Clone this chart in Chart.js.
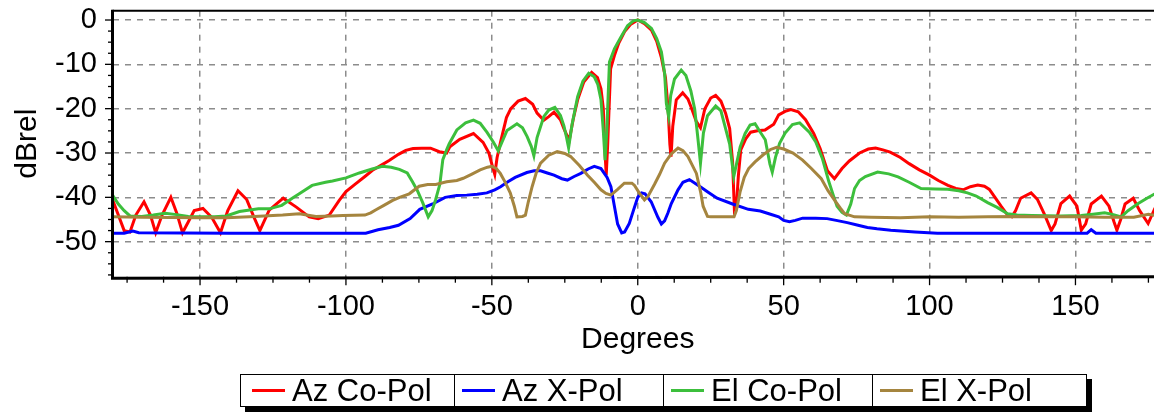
<!DOCTYPE html>
<html><head><meta charset="utf-8">
<script src="https://cdn.jsdelivr.net/npm/chart.js@4.4.1/dist/chart.umd.min.js"></script>
<style>
html,body{margin:0;padding:0;background:#fff;overflow:hidden;width:1154px;height:417px;}
#wrap{position:absolute;left:0;top:0;width:1170px;height:417px;}
#legend{position:absolute;left:240px;top:374px;display:flex;border:1px solid #000;box-shadow:5px 5px 0 #000;background:#fff;font-family:"Liberation Sans",Arial,sans-serif;font-size:31px;color:#000;}
.cell{height:31px;display:flex;align-items:center;border-left:1px solid #000;box-sizing:border-box;padding-left:7px;white-space:nowrap;}
.cell:first-child{border-left:none;padding-left:11px}
.swatch{width:33px;height:3px;margin-right:7px;flex:none}
</style></head><body>
<div id="wrap"><canvas id="c"></canvas></div>
<div id="legend"></div>
<script>
// ---- tick labels ----
const xTicks = [-150, -100, -50, 0, 50, 100, 150];
const yTicks = [-50, -40, -30, -20, -10, 0];

// ---- series: Az Co-Pol ----
const azCoDeg = [-180,-178,-176,-174,-172,-169.2,-167,-165.2,-163,-160,-158,-156,-154,-152,-149,-146,-143,-140.5,-137,-134,-131.5,-129.5,-126.3,-121.5,-117,-112.6,-109.5,-105.7,-102.3,-100,-96.6,-93.5,-90.9,-88,-85.2,-82,-79.5,-77,-74,-71,-68,-65.5,-64.4,-61,-56.3,-53,-51,-49.8,-49,-48.2,-47,-45,-43.5,-41,-38.5,-36,-34.5,-32.2,-30.5,-28.7,-26.5,-25.3,-23.5,-22,-20.6,-18.5,-15.8,-13.8,-12.6,-11.8,-11.2,-10.8,-10.3,-9.3,-8,-6.5,-4.5,-2.5,0,2.3,4.7,6.5,8.1,9.5,10.4,11,11.4,12,13.2,15.4,17.2,18.5,20,21.5,23,25,26.7,28.5,30.1,31.5,32.5,33.1,33.9,34.5,35.3,37,38.7,41,43.6,46.6,48.3,50.5,52.5,55,57.5,60.3,62.5,65,67.4,70,72.5,76,79,81.5,84,86.5,90,93,96.5,100,103,106.3,109,111.5,114,116.5,118.8,120.5,122.3,124.5,126.5,128.2,129.5,131.2,134.8,137,139.5,141.7,143,145,148,150.5,152,153.5,155.4,158.9,161.5,163.2,164.2,165.5,167,169.8,172,174.9,177.2,180];
const azCoDb  = [-40.5,-44,-47.5,-47.8,-44,-41,-44,-48,-44,-40,-43.5,-48,-45.5,-43,-42.5,-44.5,-48,-43,-38.5,-40.5,-44.5,-47.5,-42.9,-40.2,-42.2,-44.4,-44.8,-44,-40.7,-38.7,-36.9,-35.3,-33.9,-32.8,-31.7,-30.3,-29.4,-29,-28.9,-28.9,-29.7,-30,-28.6,-26.9,-25.6,-27.6,-30,-33,-34.8,-31,-27.5,-22,-20,-18.3,-17.7,-19,-21,-22.6,-21.8,-20.8,-22.5,-24.5,-27.2,-22,-18,-14,-11.8,-13,-15.5,-20,-30,-35,-28,-11,-8,-5.2,-2.6,-1,0,-0.8,-2.3,-4.8,-8.5,-13,-20,-28,-30.8,-24,-18,-16.4,-17.8,-20,-22.8,-24.3,-20,-17.6,-17,-18.3,-21,-24.5,-32,-42.5,-41,-35,-29.3,-26.8,-25.3,-25,-24.8,-23.5,-21.4,-20.6,-20.2,-20.7,-22.5,-25.6,-29,-34,-35.8,-33.5,-31.8,-30,-29.1,-28.9,-29.3,-29.8,-31,-32.4,-33.8,-35,-36.2,-37.3,-38,-38.3,-37.6,-37.2,-37.5,-38.2,-39.9,-42,-43.8,-44.4,-43,-40.2,-39,-40.5,-44,-47.5,-46,-41.4,-39.7,-42,-47.4,-46,-41.5,-39.7,-42,-45.5,-47.4,-45,-41.5,-40.2,-43,-45.9,-42.5,-40];

// ---- series: Az X-Pol ----
const azXDeg = [-180,-176,-173,-171,-140,-100,-93.2,-89,-85,-82,-78,-74.7,-70.3,-66,-62,-58.6,-55,-51.7,-49,-47,-44.5,-42,-38,-35.5,-33.3,-31,-28.7,-26,-24.1,-21.8,-19.5,-17,-14.9,-12.6,-10.5,-9.2,-8,-6.9,-5.5,-4.5,-2.9,-1.5,0,1.3,2.5,4.6,6.9,8.1,9.2,10.3,11.5,13.8,15.5,17.7,20,21.8,24,27.2,32.5,37.9,42,45.5,48.3,50,52,54,56.5,61,64.9,68,71.8,75.5,78.7,82,86.7,95,102.7,150,154,155.4,157,180];
const azXDb  = [-48.1,-48.1,-47.6,-48,-48.1,-48.1,-48.1,-47.3,-46.8,-46.3,-44.8,-42.7,-41.5,-40,-39.6,-39.5,-39.3,-39,-38.3,-37.6,-36.5,-35.5,-34.4,-34,-34,-34.5,-35,-35.8,-36.1,-35.3,-34.6,-33.6,-33,-33.5,-35.5,-37.6,-42,-46,-48,-47.8,-45.9,-43,-40,-39,-39.2,-41,-44.5,-46,-45.3,-43.6,-41.4,-38.3,-36.6,-36,-37,-37.8,-38.8,-40.2,-41.5,-42.7,-43.1,-43.8,-44.4,-45.2,-45.5,-45.2,-44.7,-44.7,-44.8,-45.2,-45.7,-46.3,-46.8,-47.1,-47.4,-47.8,-48.1,-48.1,-48.1,-47.3,-48.1,-48.1];

// ---- series: El Co-Pol ----
const elCoDeg = [-180,-178,-176,-174,-170,-166,-162,-158,-154,-150,-145,-141,-136.5,-130,-126.3,-122,-118.4,-116,-111.6,-107,-104.6,-100,-95.4,-91,-87.5,-84.5,-81.7,-79,-77.2,-75.5,-73.7,-71.8,-70.5,-69.3,-67.8,-66.8,-65.5,-64.6,-62,-59,-56.3,-54,-51.7,-49.5,-47.8,-46.5,-44.8,-41.4,-39.5,-37.9,-36.5,-35.6,-34.5,-32.2,-30.5,-28.4,-26.5,-25.3,-24.4,-23.7,-22.5,-20.6,-18.8,-16.8,-14.9,-13.7,-12.6,-11.8,-11.2,-10.6,-9.7,-8,-5.7,-3.5,-1.5,0,2.3,4.7,6.5,8.1,9.2,9.8,10.6,11.3,12.6,14.9,16.5,18.2,19.5,20.5,21.5,22.5,23.9,26.7,28.5,30.1,31.5,32.9,34,35.1,36.8,38.5,40.2,41.9,43.7,45.3,46.1,47.2,48.6,50.5,53,55.5,58.8,61,63.3,65.5,67,68.3,70,71.5,73,74.3,76,78,82.2,86,89.2,93,97.1,102,106.2,110,113,116,119.9,123,126.8,130,135,145,152,156,160,163,165.7,168,171.5,174.5,177.2,180];
const elCoDb  = [-39.5,-41.5,-43,-44.2,-44.3,-44,-43.6,-43.9,-44.3,-44.4,-44.4,-44.2,-43.2,-42.6,-42.6,-41.8,-40.2,-39.2,-37.3,-36.6,-36.3,-35.6,-34.5,-33.6,-33,-33.2,-33.7,-34.5,-36.5,-38.5,-41.2,-44.4,-43,-40.6,-37,-31.5,-29.3,-27.9,-24.8,-23.2,-22.6,-23.3,-25.3,-27.5,-29.5,-27.5,-24.9,-23.4,-24.3,-26.3,-28.5,-30.6,-26.5,-21.8,-20.3,-19.7,-21.5,-23.9,-26.5,-28.8,-23.5,-17.3,-13.8,-12,-12.8,-14.5,-18,-25,-31.6,-25,-9.5,-6.5,-3.8,-1.3,-0.2,0,-0.6,-1.9,-4.2,-7.2,-12,-18.8,-21.8,-17,-13.3,-11.3,-12.5,-16,-20,-26,-32.3,-25.5,-21.6,-19.4,-20.5,-24.5,-28,-35.3,-32,-28.6,-25.6,-23.7,-23.4,-25.2,-27,-32.5,-34.3,-31,-27.8,-25.5,-23.6,-23.2,-25.3,-27.5,-31.3,-36.5,-39.5,-42,-43.4,-44,-41.5,-38,-36.2,-35.3,-34.3,-34.7,-35.4,-36.6,-38,-38.1,-38.2,-38.5,-39,-39.7,-41.2,-42.2,-43.7,-44,-44.1,-44.2,-44.1,-43.8,-43.5,-43.9,-44.4,-43,-41.4,-40.2,-39.2,-38.7];

// ---- series: El X-Pol ----
const elXDeg = [-180,-170,-150,-141,-133,-125,-121.7,-116,-110.3,-104.8,-101,-93.5,-91.5,-89.7,-87,-84,-81.6,-78.3,-74.9,-72,-69.2,-65.5,-62,-59.8,-57,-54,-51.5,-50,-48.5,-47.1,-45.5,-43.7,-42.3,-41.4,-39.5,-38.5,-37.5,-36.2,-34.8,-33.3,-30.5,-27.6,-25,-23,-20,-17.2,-14.9,-12.6,-10.9,-9.2,-6.9,-4.6,-2,-1.1,0.5,2.3,3.5,5.8,7.5,9.2,11.5,13.8,15.5,17.2,18.5,20.1,21.6,22.4,23.9,25,33,33.8,35.1,36.5,38,40.2,43,45.5,47.6,50,53.2,56.5,59.5,62.9,65.2,67.5,69.5,70.9,74.3,80,90,100,110,120,130,140,150,160,170,175,180];
const elXDb  = [-44.4,-44.5,-44.6,-44.6,-44.4,-44.1,-44,-43.7,-44.3,-44.2,-44.1,-44,-43.5,-42.8,-41.8,-40.7,-40,-39.2,-37.5,-37.1,-37.1,-36.5,-36.2,-35.7,-34.8,-33.8,-33.2,-33,-33.5,-34.6,-36.5,-39,-42,-44.4,-44.3,-44,-41,-37.6,-34.5,-32.3,-30.5,-29.7,-30.1,-30.8,-32.8,-35,-36.6,-38.3,-39.1,-39.5,-38.2,-36.8,-36.8,-37.3,-39,-40.6,-39.8,-37,-34.8,-32.3,-30.2,-28.9,-29.5,-30.8,-32.5,-34.6,-39,-42,-44.3,-44.4,-44.4,-43,-38.7,-35.5,-33.5,-32,-30.4,-29.2,-28.7,-29.1,-30,-31.6,-33.5,-35.8,-38.5,-40.7,-42.5,-43.7,-44.4,-44.5,-44.6,-44.4,-44.5,-44.4,-44.3,-44.4,-44.4,-44.5,-44.5,-43.8,-44.4];

const seriesNames = ['Az Co-Pol', 'Az X-Pol', 'El Co-Pol', 'El X-Pol'];
const seriesColors = ['#ff0000', '#0000ff', '#3cbf3c', '#a5853f'];

const FONT = '"Liberation Sans", Arial, Helvetica, sans-serif';
const pairs = (xs, ys) => xs.map((v, i) => ({x: v, y: ys[i]}));
const allSeries = [pairs(azCoDeg, azCoDb), pairs(azXDeg, azXDb), pairs(elCoDeg, elCoDb), pairs(elXDeg, elXDb)];

const framePlugin = {
  id: 'frame',
  afterDraw(chart) {
    const {ctx, chartArea: {left, right, top, bottom}, scales: {x, y}} = chart;
    ctx.save();
    ctx.strokeStyle = '#000';
    ctx.lineCap = 'butt';
    // ticks
    ctx.lineWidth = 1.3;
    for (let v = -175; v <= 180; v += 12.5) {
      const px = x.getPixelForValue(v);
      const major = Math.abs(v % 50) < 1e-6;
      ctx.beginPath(); ctx.moveTo(px, bottom); ctx.lineTo(px, bottom + (major ? 8.5 : 6)); ctx.stroke();
    }
    for (let v = -57.5; v <= 0.01; v += 2.5) {
      const py = y.getPixelForValue(v);
      const major = Math.abs(v % 10) < 1e-6;
      ctx.beginPath(); ctx.moveTo(left, py); ctx.lineTo(left - (major ? 7.5 : 4.5), py); ctx.stroke();
    }
    // frame
    ctx.lineWidth = 2;
    ctx.beginPath(); ctx.moveTo(left, top); ctx.lineTo(right, top); ctx.stroke();
    ctx.lineWidth = 3;
    ctx.beginPath(); ctx.moveTo(left, top - 1); ctx.lineTo(left, bottom + 1.5); ctx.lineTo(right, bottom); ctx.stroke();
    ctx.restore();
  }
};

const chart = new Chart(document.getElementById('c'), {
  type: 'line',
  data: {
    datasets: allSeries.map((d, i) => ({
      label: seriesNames[i],
      data: d,
      borderColor: seriesColors[i],
      backgroundColor: seriesColors[i],
      borderWidth: 3,
      pointRadius: 0,
      tension: 0,
      fill: false,
      order: 4 - i
    }))
  },
  options: {
    responsive: true,
    maintainAspectRatio: false,
    animation: false,
    layout: {padding: {left: 0, right: 7, top: 10.7, bottom: 59.3}},
    plugins: {legend: {display: false}, tooltip: {enabled: false}},
    scales: {
      x: {
        type: 'linear', min: -180, max: 180,
        afterBuildTicks: s => { s.ticks = xTicks.map(v => ({value: v})); },
        afterFit: s => { s.height = 81; s.paddingLeft = 0; s.paddingRight = 0; },
        grid: {color: '#8c8c8c', lineWidth: 1.5, drawTicks: false},
        border: {display: false, dash: [6, 6]},
        ticks: {font: {family: FONT, size: 29}, color: '#000', padding: 13, maxRotation: 0, autoSkip: false},
        title: {display: true, text: 'Degrees', font: {family: FONT, size: 30}, color: '#000', padding: {top: 0, bottom: 0}}
      },
      y: {
        type: 'linear', min: -57.9, max: 2.1,
        afterBuildTicks: s => { s.ticks = yTicks.map(v => ({value: v})); },
        afterFit: s => { s.width = 112.5; s.paddingTop = 0; s.paddingBottom = 0; },
        grid: {color: '#8c8c8c', lineWidth: 1.5, drawTicks: false},
        border: {display: false, dash: [6, 6]},
        ticks: {font: {family: FONT, size: 29}, color: '#000', padding: 15.5, autoSkip: false},
        title: {display: true, text: 'dBrel', font: {family: FONT, size: 30}, color: '#000', padding: {top: 9.5, bottom: 0}}
      }
    }
  },
  plugins: [framePlugin]
});

// HTML legend built from the chart's datasets
const cellWidths = [213, 209, 209, 214];
const legend = document.getElementById('legend');
chart.data.datasets.forEach((ds, i) => {
  const cell = document.createElement('div');
  cell.className = 'cell';
  cell.style.width = cellWidths[i] + 'px';
  const sw = document.createElement('span');
  sw.className = 'swatch';
  sw.style.background = ds.borderColor;
  const tx = document.createElement('span');
  tx.textContent = ds.label;
  cell.appendChild(sw); cell.appendChild(tx);
  legend.appendChild(cell);
});
</script>
</body></html>
